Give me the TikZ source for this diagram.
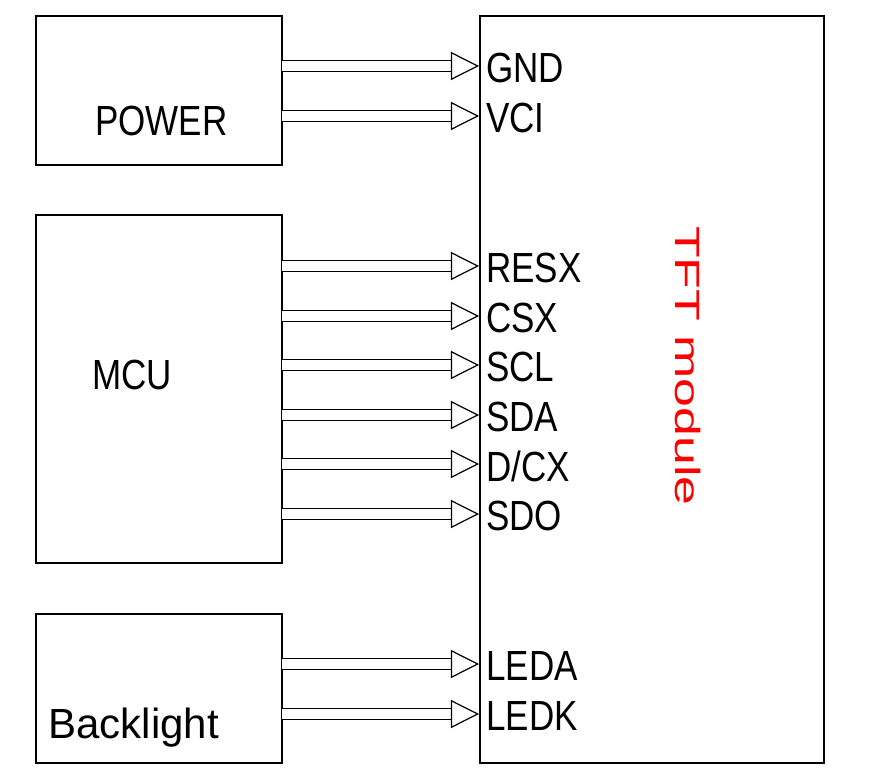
\documentclass[tikz,border=0pt]{standalone}
\usepackage{fontspec}
\setmainfont{Liberation Sans}
\usetikzlibrary{arrows.meta}
\tikzset{
  blk/.style={draw,line width=0.7pt},
  sig/.style={draw,line width=0.6pt,double distance=6pt,
    -{Triangle[open,length=16pt,width=16pt,line width=0.7pt]}},
  pin/.style={anchor=west,inner sep=0pt,font=\fontsize{24}{24}\selectfont,xscale=0.83},
}
\begin{document}
\begin{tikzpicture}[x=0.02cm,y=-0.02cm]
  \useasboundingbox (0,0) rectangle (871,783);
  \draw[blk] (36,16) rectangle (282,165);
  \draw[blk] (36,215) rectangle (282,563);
  \draw[blk] (36,614) rectangle (282,763);
  \draw[blk] (480,16) rectangle (824,763);
  \node[pin] (power) at (95,121) {POWER};
  \node[pin] (mcu) at (92,375) {MCU};
  \node[pin,xscale=1.2] (back) at (48,728) {Backlight};
  \node[pin,text=red,rotate=-90,anchor=center,xscale=1.23] (tft) at (688,366) {TFT module};
  \foreach \y/\t in {66/GND,116/VCI,266/RESX,316/CSX,365/SCL,415/SDA,464/{D/CX},514/SDO,664/LEDA,714/LEDK}{
    \coordinate (s\y) at (282,\y);
    \coordinate (e\y) at (479,\y);
    \draw[sig] (s\y) -- (e\y);
    \node[pin] (p\y) at (486,\y+2) {\t};
  }
\end{tikzpicture}
\end{document}
